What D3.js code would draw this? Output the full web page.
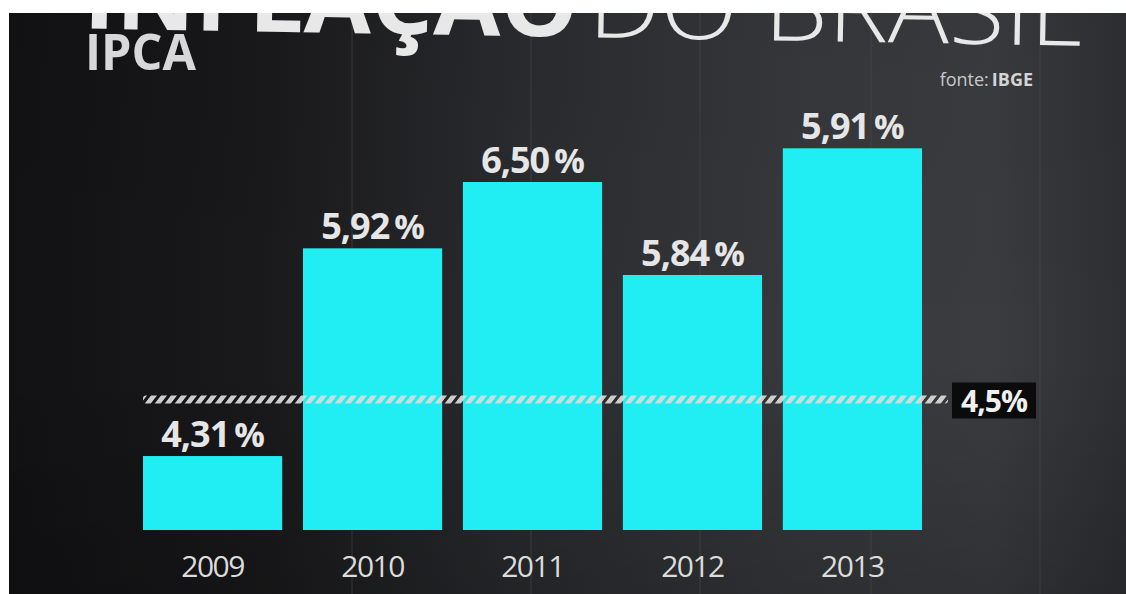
<!DOCTYPE html>
<html>
<head>
<meta charset="utf-8">
<script src="https://cdn.jsdelivr.net/npm/d3@7"></script>
<style>
  html, body { margin: 0; padding: 0; background: #fff; }
  svg { display: block; }
</style>
</head>
<body>
<svg id="chart" width="1126" height="594"></svg>
<script>
// ---- data ----
const years = ["2009", "2010", "2011", "2012", "2013"];
const values = [4.31, 5.92, 6.50, 5.84, 5.91];          // printed IPCA values (%)
// bar heights as the broadcast graphic actually drew them (in % units)
const shownLevels = [3.98, 5.89, 6.50, 5.645, 6.81];
const target = 4.5;                                        // meta de inflação
const titleBold = "INFLAÇÃO";
const titleLight = "DO BRASIL";
const subtitle = "IPCA";
const sourceLabel = "fonte:";
const sourceName = "IBGE";

const fmt = v => v.toFixed(2).replace(".", ",");

const W = 1126, H = 594;
const svg = d3.select("#chart");
const defs = svg.append("defs");

// background gradient (dark video wall)
const bg = defs.append("linearGradient").attr("id", "bg").attr("x1", 0).attr("x2", 1).attr("y1", 0).attr("y2", 0);
[[0, "#121214"], [0.22, "#19191b"], [0.45, "#2a2b2e"], [0.7, "#37383b"], [0.88, "#3b3c3f"], [1, "#2e2f32"]]
  .forEach(([o, c]) => bg.append("stop").attr("offset", o).attr("stop-color", c));
const vshade = defs.append("linearGradient").attr("id", "vshade").attr("x1", 0).attr("x2", 0).attr("y1", 0).attr("y2", 1);
[[0, "rgba(0,0,0,0.05)"], [0.6, "rgba(0,0,0,0)"], [1, "rgba(0,0,0,0.18)"]]
  .forEach(([o, c]) => vshade.append("stop").attr("offset", o).attr("stop-color", c));

// hatch pattern for the target line
const pat = defs.append("pattern").attr("id", "hatch").attr("patternUnits", "userSpaceOnUse")
  .attr("width", 10).attr("height", 10).attr("patternTransform", "skewX(-38)");
pat.append("rect").attr("x", 0).attr("y", 0).attr("width", 6).attr("height", 10).attr("fill", "#dcdcdc");

svg.append("rect").attr("width", W).attr("height", H).attr("fill", "#ffffff");
svg.append("rect").attr("x", 9).attr("y", 13).attr("width", W - 9).attr("height", H - 13).attr("fill", "url(#bg)");
svg.append("rect").attr("x", 9).attr("y", 13).attr("width", W - 9).attr("height", H - 13).attr("fill", "url(#vshade)");

// video-wall panel seams
const seams = [352, 531, 700, 871, 1040];
svg.append("g").selectAll("line").data(seams).join("line")
  .attr("x1", d => d).attr("x2", d => d).attr("y1", 13).attr("y2", H)
  .attr("stroke", "#4a4b4f").attr("stroke-width", 1).attr("opacity", 0.6);

// ---- scales ----
const x = d3.scaleBand().domain(years).range([143, 922]).paddingInner(0.13).paddingOuter(0);
const y = d3.scaleLinear().domain([3.3, 6.5]).range([530, 182]);

// ---- title (cut off by the top of the photo) ----
const tg = svg.append("g").attr("transform", "rotate(1 580 37)");
tg.append("text").attr("x", 578).attr("y", 37).attr("text-anchor", "end")
  .attr("font-family", "'Open Sans', sans-serif").attr("font-weight", 700).attr("font-size", 92)
  .attr("fill", "#e8e8e8").attr("textLength", 495).attr("lengthAdjust", "spacingAndGlyphs")
  .text(titleBold);
tg.append("text").attr("x", 588).attr("y", 37).attr("text-anchor", "start")
  .attr("font-family", "'Open Sans', sans-serif").attr("font-weight", 300).attr("font-size", 92)
  .attr("fill", "#e8e8e8").attr("textLength", 494).attr("lengthAdjust", "spacingAndGlyphs")
  .text(titleLight);

// white frame over title (photo border)
svg.append("rect").attr("x", 0).attr("y", 0).attr("width", W).attr("height", 13).attr("fill", "#ffffff");
svg.append("rect").attr("x", 0).attr("y", 0).attr("width", 9).attr("height", H).attr("fill", "#ffffff");

svg.append("text").attr("x", 85).attr("y", 70)
  .attr("font-family", "'Open Sans', sans-serif").attr("font-weight", 700).attr("font-size", 50)
  .attr("fill", "#d8d8d8").attr("textLength", 111).attr("lengthAdjust", "spacingAndGlyphs")
  .text(subtitle);

// source
const srcName = svg.append("text").attr("x", 1033).attr("y", 86).attr("text-anchor", "end")
  .attr("font-family", "'Open Sans', sans-serif").attr("font-size", 18).attr("font-weight", 700)
  .attr("fill", "#d4d4d4").text(sourceName);
const nameW = srcName.node().getComputedTextLength();
svg.append("text").attr("x", 1033 - nameW - 3).attr("y", 86).attr("text-anchor", "end")
  .attr("font-family", "'Open Sans', sans-serif").attr("font-size", 18).attr("font-weight", 400)
  .attr("fill", "#c8c8c8").text(sourceLabel);

// ---- bars ----
const data = years.map((yr, i) => ({ yr, v: values[i], lvl: shownLevels[i] }));
svg.append("g").selectAll("rect").data(data).join("rect")
  .attr("x", d => x(d.yr)).attr("width", x.bandwidth())
  .attr("y", d => y(d.lvl)).attr("height", d => y.range()[0] - y(d.lvl))
  .attr("fill", "#20eef2");

// value labels
const vl = svg.append("g").selectAll("text").data(data).join("text")
  .attr("x", d => x(d.yr) + x.bandwidth() / 2).attr("y", d => y(d.lvl) - 9)
  .attr("text-anchor", "middle")
  .attr("font-family", "'Open Sans', sans-serif").attr("font-weight", 700).attr("font-size", 36)
  .attr("letter-spacing", -1).attr("fill", "#e6e6e6");
vl.append("tspan").text(d => fmt(d.v));
vl.append("tspan").attr("dx", 5).attr("font-size", 34).text("%");

// year axis labels
const xAxis = d3.axisBottom(x).tickSize(0).tickPadding(0);
const ax = svg.append("g").attr("transform", "translate(0,553)").call(xAxis);
ax.select(".domain").remove();
ax.selectAll("text")
  .attr("font-family", "'Open Sans', sans-serif").attr("font-size", 30).attr("font-weight", 400)
  .attr("letter-spacing", -1.5).attr("fill", "#dcdcdc").attr("dy", "0.8em");

// target (meta) hatched line
const ty = y(target);
svg.append("rect").attr("x", 143).attr("y", ty - 4).attr("width", 948 - 143).attr("height", 8)
  .attr("rx", 3).attr("fill", "url(#hatch)").attr("opacity", 0.92);

svg.append("rect").attr("x", 952).attr("y", ty - 17).attr("width", 84).attr("height", 36).attr("fill", "#0b0b0c");
svg.append("text").attr("x", 994).attr("y", ty + 12).attr("text-anchor", "middle")
  .attr("font-family", "'Open Sans', sans-serif").attr("font-weight", 700).attr("font-size", 30)
  .attr("letter-spacing", -1).attr("fill", "#f0f0f0")
  .text(String(target).replace(".", ",") + "%");
</script>
</body>
</html>
